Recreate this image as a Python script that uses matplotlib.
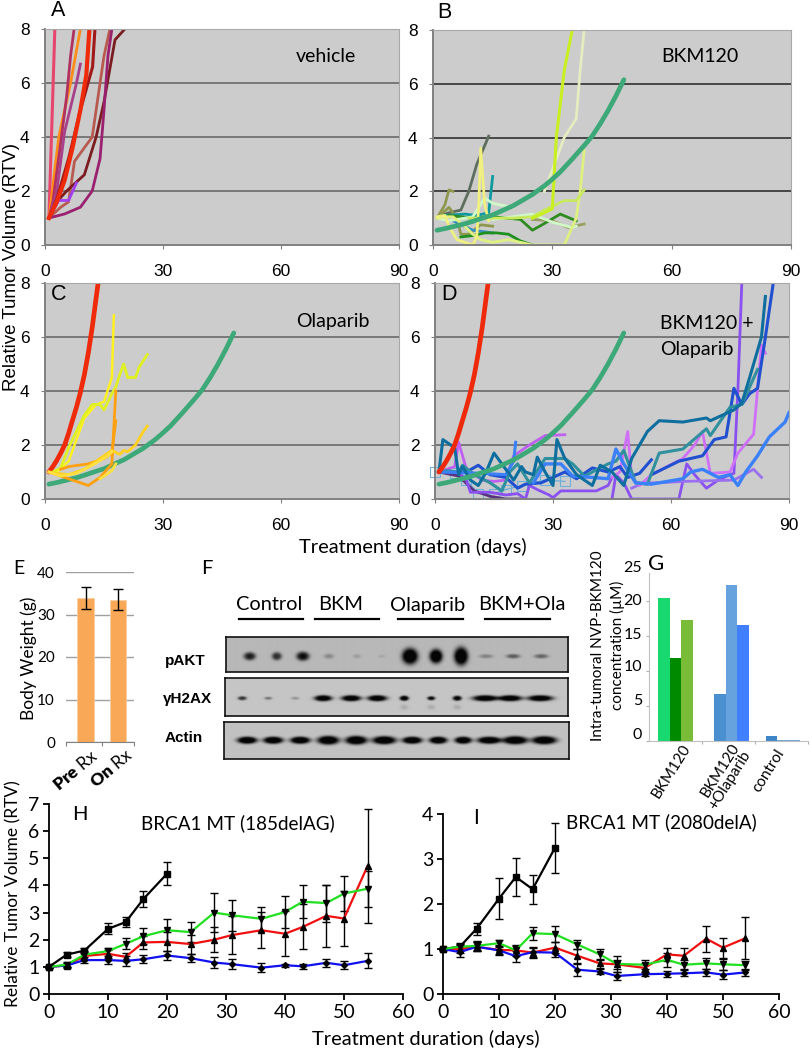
import numpy as np
import matplotlib
matplotlib.use('Agg')
import matplotlib.pyplot as plt
from matplotlib.lines import Line2D

W, H = 810, 1050
plt.rcParams['font.family'] = ['Lato', 'DejaVu Sans']
plt.rcParams['mathtext.fontset'] = 'custom'
plt.rcParams['mathtext.bf'] = 'Lato:heavy'
plt.rcParams['mathtext.rm'] = 'Lato'

# reference curves shared by B, C, D
red_curve = [(1, 1), (2, 1.2), (3, 1.43), (4, 1.7), (5, 2.0), (6, 2.43), (7, 2.92), (8, 3.4), (9, 3.95), (10, 4.6), (11, 5.4), (12, 6.35), (13, 7.45), (13.6, 8.1)]
green_curve = [(1, .55), (3, .61), (5, .68), (8, .79), (10, .88), (12, .98), (15, 1.12), (18, 1.32), (20, 1.45), (22, 1.62), (25, 1.88), (28, 2.2), (30, 2.45), (32, 2.72), (35, 3.2), (38, 3.7), (40, 4.05), (42, 4.5), (44, 5.0), (46, 5.55), (48, 6.15)]

# panel A, vehicle
lines_a = [
    ('#E8456E', 2.2, [(1, 1), (2.5, 8)]),
    ('#FF8C1A', 2.0, [(1, 1), (3.5, 4), (6.5, 6), (9, 8)]),
    ('#B03060', 2.0, [(1, 1), (2, 1.6), (4, 3.8), (5.5, 5.5), (6.5, 7), (7.4, 8)]),
    ('#A8408A', 2.0, [(1, 1), (3, 2), (5, 4.2), (8, 6), (9, 6.7)]),
    ('#A01818', 2.2, [(1, 1), (3, 1.7), (6, 3.2), (9, 5), (12.1, 6.6), (12.7, 8)]),
    ('#B85A50', 2.0, [(1, 1), (4, 1.4), (6, 1.6), (7.5, 3.1), (10, 3.6), (12, 4), (13.5, 5.5), (15, 7), (16.5, 8)]),
    ('#7A1C20', 2.0, [(1, 1), (3, 1.6), (5.5, 2.0), (10, 2.6), (13, 4), (15, 5.3), (17.8, 7.6), (20.3, 8)]),
    ('#9A2070', 2.0, [(1, 1), (5, 1.15), (9, 1.4), (12, 2), (14, 3.2), (15, 5), (16, 7), (17, 8)]),
    ('#A040F0', 2.0, [(1, 1), (3.5, 1.65), (6, 1.65), (8, 2.3)]),
    ('#EE2A0A', 3.0, [(1, 1), (3, 1.6), (5, 2.4), (7, 3.6), (9, 5), (10.5, 6.3), (11.3, 8)]),
]

# panel B, BKM120
lines_b = [
    ('#E4ECC0', 2.0, [(28, 2), (30, 2.8), (33, 4), (36, 4.7), (37, 6.5), (38, 8)]),
    ('#5E6E5E', 2.0, [(2, 1.1), (4, 1.2), (7, 1.3), (9, 2), (11, 3), (14, 4.05)]),
    ('#909850', 2.0, [(1, 1), (3, 1.5), (4, 2.05), (5, 2)]),
    ('#909850', 2.0, [(1, 1), (4, 1.4), (6, 1), (7, .4), (9, .4), (12, .75), (15, .7)]),
    ('#98A060', 2.0, [(25, .95), (30, .9), (34, .65), (38, .78)]),
    ('#109AA0', 2.0, [(3, 1.1), (8, 1.15), (11, 1.1), (14, 1.2), (15, 2.55)]),
    ('#3890C0', 2.0, [(5, .9), (10, .55), (15, .45)]),
    ('#1E9020', 2.0, [(7, .3), (10, .35), (13, .45), (16, .45), (19, .4), (22, .15), (25, 0)]),
    ('#2E8B20', 2.0, [(4, 1.1), (10, 1.0), (15, 1.05), (22, .95), (25, .55), (28, .8), (32, 1.15), (36, .9)]),
    ('#D0F8C8', 2.0, [(1, 1), (4, .9), (10, 1.05), (13, 1.75), (15, 1.55), (20, 1.4)]),
    ('#D0F8C8', 2.0, [(15, .95), (25, 1.15), (30, .85), (35, .65), (36, .7)]),
    ('#E0F080', 2.0, [(1, 1), (3, 1.05), (5, 1.05), (8, .7), (10, .4), (12, .2), (15, .1), (19, .2), (22, .1), (25, 0), (33, 0), (36, 1), (37, 2), (38, 3.5)]),
    ('#C8E860', 2.0, [(9, 1), (20, 1), (25, 1.05), (28, 1.3), (33, 1.65), (36, 1.65), (38, 2.05)]),
    ('#F0F080', 2.0, [(1, 1.05), (3, 1.1), (4, .7), (6, .2), (8, .1), (10, 0), (11, .3), (11.5, 1.5), (12, 3.6), (13, 1.5), (14, .9)]),
    ('#C8F020', 2.2, [(25, 1), (28, 1.2), (30, 1.35), (31, 4), (33, 6.5), (35, 8)]),
]

# panel C, Olaparib
lines_c = [
    ('#FFF020', 1.8, [(3, 1), (6, 1.4), (8, 2.2), (10, 3), (13, 3.5), (15, 3.6), (17, 4.5), (17.5, 6.8)]),
    ('#E0F020', 2.0, [(2, 1), (4, 1.15), (6, 1.9), (8, 2.5), (10, 3.1), (12, 3.5), (14, 3.5), (15, 3.3), (17, 3.9), (18, 4.15), (19, 4.6), (20, 5), (21, 4.5), (23, 4.5), (24, 4.9), (26, 5.35)]),
    ('#FFA010', 2.0, [(1, 1), (5, .8), (8, .65), (11, .5), (14, .8), (17, 1.3), (18, 4)]),
    ('#FFA010', 2.0, [(4, 1.1), (6, 1.2), (11, 1.3), (15, 1.5), (17, 1.7), (18, 2.9)]),
    ('#FFD020', 2.0, [(1, 1), (3, .95), (6, .9), (10, 1.1), (14, 1.5), (17, 1.8), (19, 1.65), (20, 1.8), (21, 1.75), (23, 2), (25, 2.5), (26, 2.7)]),
    ('#FFE040', 2.0, [(1, 1), (4, .85), (8, .95), (12, 1.25), (16, 1.6), (17, 1.75)]),
    ('#FFE040', 2.0, [(14, .75), (17, 1.05), (18, 1.3)]),
]

# panel D, combination
lines_d = [
    ('#70B0D8', 1.0, [(0, 1), (5, .95), (8, .7), (11, .2), (15, .2), (18, .35), (22, .5), (28, .7), (33, .65)]),
    ('#5A3080', 2.0, [(1, 1), (6, .85), (10, .3), (14, .1), (18, 0), (22, 0)]),
    ('#8A50F0', 2.0, [(1, 1), (6, 1), (8, .7), (9, .25), (14, .25), (18, .15), (21, .2), (23, 0), (24, .5), (26, .35), (29, .15), (30, .05), (32, .3), (37, .3), (41, .3), (44, .5), (45, .8)]),
    ('#8A50F0', 2.0, [(45, 0), (46, .9), (48, .6), (50, 0), (62, 0), (64, 1.3), (66, .9), (69, .4), (72, .7), (75, .9), (76, .95), (77, 4), (78, 8)]),
    ('#9A70F0', 2.0, [(50, .4), (53, .6), (57, .6), (63, .65), (76, .7), (81, 1.1), (83, .8)]),
    ('#C060F0', 2.0, [(1, 1), (5, 1.2), (6, 2.1), (8, 1.1), (12, .7), (15, .65), (18, .7), (20, 1.6), (24, 2), (28, 2.35), (33, 2.38)]),
    ('#D070F8', 2.0, [(45, .8), (47, 1), (49, 2.5), (50, .8), (52, .5), (55, .9), (63, 1.5), (66, 2), (68, 2.5), (70, .95), (75, 1), (77, 1.7), (81, 2.4), (83, 5.7), (84, 5.4)]),
    ('#2050D0', 2.2, [(3, 1), (8, 1), (11, 1.25), (14, .9), (18, .8), (21, .4), (23, .55), (27, .6), (30, .8), (33, 1), (36, .75), (40, 1.15), (44, 1), (47, 1.2), (49, .8), (52, .95), (55, 1.45)]),
    ('#2050D0', 2.2, [(55, .9), (62, 1.4), (68, 1.6), (71, 2.2), (74, 2.3), (76, 4.1), (78, 3.5), (80, 3.9), (82, 4.1), (84, 6), (86, 8)]),
    ('#30909E', 2.2, [(1, 1), (3, 1.05), (6, 1), (7, 1.25), (10, .9), (14, .6), (17, .3), (19, 1), (21, 1.3), (24, .6), (28, 1.5), (33, 1.5), (35, 1.3), (38, .85), (44, 1.3), (46, 1.4), (48, 1.8), (51, .6), (54, .55), (57, 1.7), (63, 1.85), (69, 2.6), (70, 2.35), (75, 3.4), (78, 3.5), (82, 4.8)]),
    ('#3A80F8', 2.2, [(2, 1), (12, .95), (18, .9), (20, 1.4), (20.5, 2.1)]),
    ('#3A80F8', 2.4, [(25, .6), (28, 1.3), (32, 1.3), (35, .85), (40, .8), (44, .75), (46, 1.85), (48, 1.3), (51, .6), (55, .55), (63, .75), (65, 1), (68, 1.1), (72, .8), (75, .9), (77, .5), (79, 1), (82, 1.6), (85, 2.3), (89, 2.85), (90, 3.2)]),
    ('#0E6E9E', 2.2, [(1, 1), (2, 2.2), (5, 1.9), (6, .9), (7, 1.2), (9, .7), (11, .5), (13, 1), (15, 1.7), (18, 1.1), (20, .7), (22, 1.2), (23, 1), (25, .9), (26, 1.55), (28, 1), (30, .5), (31, 2.2), (33, 1.5), (36, .9), (40, .5), (42, 1.25), (45, 1), (48, .5), (50, 1.5), (54, 2.5), (57, 2.9), (63, 2.85), (69, 3), (70, 2.9), (76, 3.3), (78, 3.55), (80, 4.5), (83, 6), (84, 7.5)]),
]

# panel E
weight_labels = [r'$\mathbf{Pre}$ Rx', r'$\mathbf{On}$ Rx']
weight = [33.9, 33.5]
weight_err = [2.6, 2.4]

# panel F, blots
lanes = ['Control', 'BKM', 'Olaparib', 'BKM+Ola']
pakt_x = [249, 276, 302, 328, 356, 381, 409, 435, 460, 485, 512, 540]
pakt_dark = [.85, .75, .95, .25, .15, .1, 1.3, 1.3, 1.3, .3, .5, .45]
pakt_w = [6, 5, 6.5, 5, 4, 3.5, 8, 6.5, 7, 7, 7, 7]
pakt_h = [4, 4, 4.5, 2.5, 2, 1.5, 8, 7, 9, 2, 2.2, 2.2]
h2ax_x = [242, 268, 295, 323, 351, 377, 404, 431, 457, 485, 510, 540]
h2ax_dark = [.75, .4, .25, 1.2, 1.2, 1.2, 1.2, 1, 1.1, 1.2, 1.2, 1.2]
h2ax_w = [4.5, 4, 4, 9, 10, 10, 4.5, 4, 4.5, 13, 12, 13]
h2ax_h = [2, 1.5, 1.5, 3, 3, 3, 2.5, 2, 2.5, 3, 3, 3]
actin_x = [247, 273, 300, 328, 356, 384, 412, 438, 463, 489, 515, 544]
actin_w = [10, 10, 10, 11, 11, 12, 10, 9, 8.5, 12, 12.5, 12.5]
actin_h = [3.5, 3.5, 3.5, 4.3, 4.3, 4, 3.5, 3.5, 3.5, 3.5, 4, 4]

# panel G
conc_groups = ['BKM120', 'BKM120\n+Olaparib', 'control']
conc = [[20.4, 11.8, 17.2], [6.7, 22.3, 16.5], [.7, .1, .1]]
conc_colors = [['#18D870', '#008A00', '#78BC38'], ['#4A90D0', '#66A2DE', '#4080FF'], ['#3E86C8', '#6FA4D8', '#6FA4D8']]

# panels H, I
days = [0, 3, 6, 10, 13, 16, 20, 24, 28, 31, 36, 40, 43, 47, 50, 54]
h_black = [1, 1.45, 1.6, 2.4, 2.65, 3.5, 4.43]
h_black_err = [.05, .1, .1, .2, .17, .3, .42]
h_green = [1, 1.08, 1.45, 1.58, 1.85, 2.13, 2.35, 2.28, 3.0, 2.9, 2.77, 3.02, 3.4, 3.35, 3.7, 3.88]
h_green_err = [.03, .1, .15, .1, .2, .3, .42, .38, .72, .57, .45, .6, .6, .68, .63, .66]
h_red = [1, 1.05, 1.4, 1.48, 1.37, 1.9, 1.92, 1.84, 2.0, 2.17, 2.35, 2.22, 2.47, 2.88, 2.78, 4.72]
h_red_err = [.03, .1, .15, .15, .15, .25, .35, .35, .47, .7, .66, .82, .83, 1.15, 1.0, 2.1]
h_blue = [1, 1.05, 1.25, 1.25, 1.22, 1.28, 1.42, 1.32, 1.16, 1.1, .97, 1.06, 1.02, 1.15, 1.06, 1.22]
h_blue_err = [.02, .05, .12, .15, .18, .15, .15, .15, .22, .18, .17, .05, .1, .15, .15, .28]

i_black = [1, 1.05, 1.45, 2.12, 2.6, 2.33, 3.25]
i_black_err = [.02, .08, .13, .46, .43, .32, .55]
i_green = [1, 1.05, 1.07, 1.13, .97, 1.35, 1.33, 1.1, .88, .67, .65, .76, .65, .68, .66, .64]
i_green_err = [.02, .07, .1, .08, .12, .15, .18, .1, .12, .17, .1, .15, .1, .12, .12, .1]
i_red = [1, 1, 1.05, .98, .97, .92, 1.03, .85, .68, .66, .58, .88, .85, 1.23, 1.03, 1.24]
i_red_err = [.02, .08, .1, .1, .1, .12, .12, .15, .1, .1, .1, .15, .18, .29, .22, .47]
i_blue = [1, .93, 1.05, .97, .84, .93, .92, .54, .5, .4, .44, .45, .46, .48, .43, .48]
i_blue_err = [.02, .1, .1, .1, .12, .1, .1, .13, .05, .08, .05, .07, .07, .07, .1, .07]

fig = plt.figure(figsize=(W / 100, H / 100), dpi=100, facecolor='white')


# axes placed by reference pixels
def make_axes(x0, y0, x1, y1):
    return fig.add_axes([x0 / W, 1 - y1 / H, (x1 - x0) / W, (y1 - y0) / H])


def label(x, y, s, size=13, ha='center', va='center', **kw):
    fig.text(x / W, 1 - y / H, s, fontsize=size, ha=ha, va=va, **kw)


def draw_series(ax, series):
    for color, lw, pts in series:
        xs, ys = zip(*pts)
        ax.plot(xs, ys, color=color, lw=lw, solid_joinstyle='round', clip_on=True)


def growth_axes(x0, y0, x1, y1, grid='#6a6a6a'):
    ax = make_axes(x0, y0, x1, y1)
    ax.set_facecolor('#CCCCCC')
    ax.set_xlim(0, 90)
    ax.set_ylim(0, 8)
    ax.set_xticks([0, 30, 60, 90])
    ax.set_yticks([0, 2, 4, 6, 8])
    for v in [2, 4, 6]:
        ax.axhline(v, color=grid, lw=1.2, zorder=1)
    for s in ['top', 'right']:
        ax.spines[s].set_color('#a8a8a8')
    for s in ['left', 'bottom']:
        ax.spines[s].set_color('#808080')
        ax.spines[s].set_linewidth(1.4)
    ax.tick_params(axis='x', length=3, color='#808080', pad=11, labelsize=12.5, labelfontfamily='Liberation Sans')
    ax.tick_params(axis='y', length=3, color='#808080', pad=8, labelsize=12.5, labelfontfamily='Liberation Sans')
    return ax


ax_a = growth_axes(45, 29, 399, 245)
draw_series(ax_a, lines_a)

ax_b = growth_axes(433, 30, 791, 245, grid='#303030')
draw_series(ax_b, lines_b)
ax_b.plot(*zip(*green_curve), color='#3DA878', lw=3.4, solid_capstyle='round')

ax_c = growth_axes(45, 283, 399, 499)
ax_c.plot(*zip(*red_curve), color='#EE2A0A', lw=3.4, solid_capstyle='round')
ax_c.plot(*zip(*green_curve), color='#3DA878', lw=3.4, solid_capstyle='round')
draw_series(ax_c, lines_c)

ax_d = growth_axes(435, 283, 789, 499)
draw_series(ax_d, lines_d[:1])
ax_d.plot(*zip(*lines_d[0][2]), ls='', marker='s', ms=6.5, mfc='none', mec='#70B0D8', mew=.8, clip_on=False)
draw_series(ax_d, lines_d[1:])
ax_d.plot(*zip(*red_curve), color='#EE2A0A', lw=3.4, solid_capstyle='round')
ax_d.plot(*zip(*green_curve), color='#3DA878', lw=3.4, solid_capstyle='round')

label(326, 57, 'vehicle', 14)
label(700, 57, 'BKM120', 14)
label(333, 322, 'Olaparib', 14)
label(660, 324, 'BKM120 +', 14, ha='left')
label(660, 350, 'Olaparib', 14, ha='left')
label(58, 11, 'A', 15.5, family='Liberation Sans')
label(444, 12, 'B', 15.5, family='Liberation Sans')
label(59, 295, 'C', 15.5, family='Liberation Sans')
label(449, 295, 'D', 15.5, family='Liberation Sans')
label(12, 267, 'Relative Tumor Volume (RTV)', 13.5, rotation=90, family='Liberation Sans')
label(413, 547, 'Treatment duration (days)', 14.5)

# E
ax_e = make_axes(66, 572, 134, 742)
ax_e.bar([0, 1], weight, width=.51, color='#F9A857', edgecolor='#F7CFA4', lw=.6, zorder=2)
ax_e.errorbar([0, 1], weight, yerr=weight_err, fmt='none', ecolor='black', elinewidth=1, capsize=3.3, capthick=1, zorder=3)
ax_e.set_xlim(-.61, 1.495)
ax_e.set_ylim(0, 40)
ax_e.set_yticks([0, 10, 20, 30, 40])
ax_e.set_xticks([-.61, .5, 1.495])
ax_e.set_xticklabels([])
ax_e.grid(axis='y', color='#a0a0a0', lw=1, zorder=1)
ax_e.tick_params(axis='y', length=0, labelsize=11, pad=8)
ax_e.tick_params(axis='x', length=3, color='#808080')
for s in ['top', 'right', 'left']:
    ax_e.spines[s].set_visible(False)
ax_e.spines['bottom'].set_color('#808080')
label(29, 658, 'Body Weight (g)', 12.5, rotation=90)
label(19, 568, 'E', 14)
for x, y, s in zip([90, 125], [747, 746], weight_labels):
    fig.text(x / W, 1 - y / H, s, fontsize=12.5, rotation=40, ha='right', va='top', rotation_mode='anchor')

# F
label(207, 568, 'F', 14.5)
for x, s in zip([269, 341, 428, 522], lanes):
    label(x, 605, s, 14.4)
for x0, x1 in [(239, 303), (315, 379), (398, 463), (485, 550)]:
    fig.add_artist(Line2D([x0 / W, x1 / W], [1 - 619 / H] * 2, color='black', lw=1.6))
for y, s in zip([661, 699, 738], ['pAKT', '\u03b3H2AX', 'Actin']):
    label(165 if s != '\u03b3H2AX' else 162.5, y, s, 11, ha='left', weight='bold', family='Liberation Sans')


def blot(x0, y0, x1, y1, base, rows):
    ax = make_axes(x0, y0, x1, y1)
    xx, yy = np.meshgrid(np.arange(x0, x1, .5), np.arange(y0, y1, .5))
    shade = np.zeros_like(xx, dtype=float)
    for xs, yc, dark, ws, hs in rows:
        for xc, d, w, h in zip(xs, dark, ws, hs):
            shade += d * np.exp(-(((xx - xc) / w) ** 2 + ((yy - yc) / h) ** 2) ** 1.6)
    img = base * (1 - np.clip(shade, 0, .97))
    ax.imshow(img, cmap='gray', vmin=0, vmax=1, extent=[x0, x1, y1, y0], aspect='auto', interpolation='bilinear')
    ax.set_xticks([])
    ax.set_yticks([])
    for s in ax.spines.values():
        s.set_linewidth(1.2)
        s.set_color('#111111')


blot(225.5, 637, 568, 672, .72, [(pakt_x, 656, pakt_dark, pakt_w, pakt_h)])
blot(225, 678, 568, 716, .77, [(h2ax_x, 698, h2ax_dark, h2ax_w, h2ax_h),
                               (h2ax_x[6:9], 707, [.12] * 3, [4] * 3, [2.5] * 3)])
blot(224, 722, 569, 759, .76, [(actin_x, 740, [1.3] * 12, actin_w, actin_h)])

# G
ax_g = make_axes(649, 573, 808, 741)
offsets = [0, 1.055, 2.025]
for g, vals in enumerate(conc):
    ax_g.bar([offsets[g] + (k - 1) * .215 for k in range(3)], vals, width=.215, color=conc_colors[g])
ax_g.set_xlim(-.5, 2.5)
ax_g.set_ylim(0, 23.95)
ax_g.set_xticks([.5, 1.5, 2.5])
ax_g.set_xticklabels([])
ax_g.set_yticks([0, 5, 10, 15, 20])
ax_g.set_yticklabels([])
ax_g.tick_params(length=2, color='#b0b0b0')
for s in ['top', 'right']:
    ax_g.spines[s].set_visible(False)
for s in ['left', 'bottom']:
    ax_g.spines[s].set_color('#c0c0c0')
for y, s in zip([735, 701, 667, 635, 601, 568], ['0', '5', '10', '15', '20', '25']):
    label(642, y, s, 11.5, ha='right')
label(598, 646, 'Intra-tumoral NVP-BKM120', 11, rotation=90)
label(617, 645, 'concentration (\u00b5M)', 11, rotation=90)
label(656, 564, 'G', 16)
for x, y, s in zip([681, 730, 775], [742, 741, 747], conc_groups):
    fig.text(x / W, 1 - y / H, s, fontsize=11, rotation=58, ha='right', va='top', rotation_mode='anchor', multialignment='right', linespacing=.95)


# H, I
def brca_axes(x0, y0, x1, y1, ymax, panels):
    ax = make_axes(x0, y0, x1, y1)
    for xs, ys, err, color, marker, ms in panels:
        ax.errorbar(xs, ys, yerr=err, color=color, ecolor='black', elinewidth=1, capsize=3.2, capthick=1,
                    marker=marker, ms=ms, mfc='black', mec='black', lw=1.6, clip_on=False)
    ax.set_xlim(0, 60)
    ax.set_ylim(0, ymax)
    ax.set_xticks(range(0, 61, 10))
    ax.set_yticks(range(0, ymax + 1))
    for s in ['top', 'right']:
        ax.spines[s].set_visible(False)
    for s in ['left', 'bottom']:
        ax.spines[s].set_linewidth(1.3)
    ax.tick_params(length=4, width=1.3, labelsize=14, pad=3)
    return ax


brca_axes(49, 804, 403, 994, 7, [
    (days[:7], h_black, h_black_err, 'black', 's', 4),
    (days, h_red, h_red_err, '#F01010', '^', 4),
    (days, h_blue, h_blue_err, '#1010F0', 'D', 3),
    (days, h_green, h_green_err, '#20E020', 'v', 4),
])
brca_axes(443, 814, 779, 994, 4, [
    (days[:7], i_black, i_black_err, 'black', 's', 4),
    (days, i_red, i_red_err, '#F01010', '^', 4),
    (days, i_blue, i_blue_err, '#1010F0', 'D', 3),
    (days, i_green, i_green_err, '#20E020', 'v', 4),
])
label(13, 894, 'Relative Tumor Volume (RTV)', 12.5, rotation=90)
label(426, 1039, 'Treatment duration (days)', 14.5)
label(238, 823, 'BRCA1 MT (185delAG)', 13.6)
label(661, 822, 'BRCA1 MT (2080delA)', 13.6)
label(80, 814, 'H', 14.5)
label(476, 818, 'I', 15)

fig.savefig('out.png', dpi=100)
